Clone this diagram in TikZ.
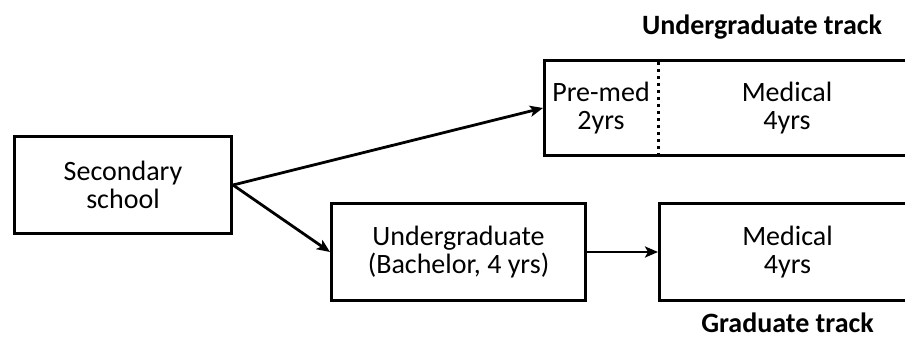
\documentclass[tikz,border=0pt]{standalone}
\usepackage{fontspec}
\setmainfont{Carlito}
\usetikzlibrary{arrows.meta,
                positioning}
\tikzset{
        base/.style={align=center, font=\fontsize{28}{28}\selectfont},
        box/.style={draw, rectangle, line width=3pt},
        tracklabel/.style={align=center, font=\fontsize{28}{28}\selectfont\bfseries},
        divider/.style={line width=3pt, dash pattern=on 3pt off 4pt},
        myarrow/.style={-{Stealth[length=13pt, width=11pt, inset=3pt]}, line width=2.8pt},
 }
\begin{document}
\begin{tikzpicture}[x=1pt, y=-1pt]
    \useasboundingbox (0,0) rectangle (905,339);
    \node[box, base, minimum width=217pt, minimum height=97pt] (secondary) at (123,185) {Secondary\\school};
    \node[box, base, minimum width=254pt, minimum height=97pt] (undergrad) at (458.5,252) {Undergraduate\\(Bachelor, 4 yrs)};
    \node[box, minimum width=270pt, minimum height=97pt, anchor=west] (gradbox) at (658,252) {};
    \node[base] (gradmed) at (787.5,252) {Medical\\4yrs};
    \node[box, minimum width=380pt, minimum height=95pt, anchor=west] (ugbox) at (543,108) {};
    \node[base] (premed) at (601,108) {Pre-med\\2yrs};
    \node[base] (ugmed) at (787,108) {Medical\\4yrs};
    \draw[divider] ([xshift=115pt,yshift=-3pt]ugbox.north west) -- ([xshift=115pt,yshift=3pt]ugbox.south west);
    \node[tracklabel] (ugtrack) at (762,27) {Undergraduate track};
    \node[tracklabel] (gradtrack) at (787.5,323) {Graduate track};

    \draw[myarrow] (secondary.east) -- (ugbox.west);
    \draw[myarrow] (secondary.east) -- (undergrad.west);
    \draw[myarrow] (undergrad.east) -- (gradbox.west);
\end{tikzpicture}
\end{document}
